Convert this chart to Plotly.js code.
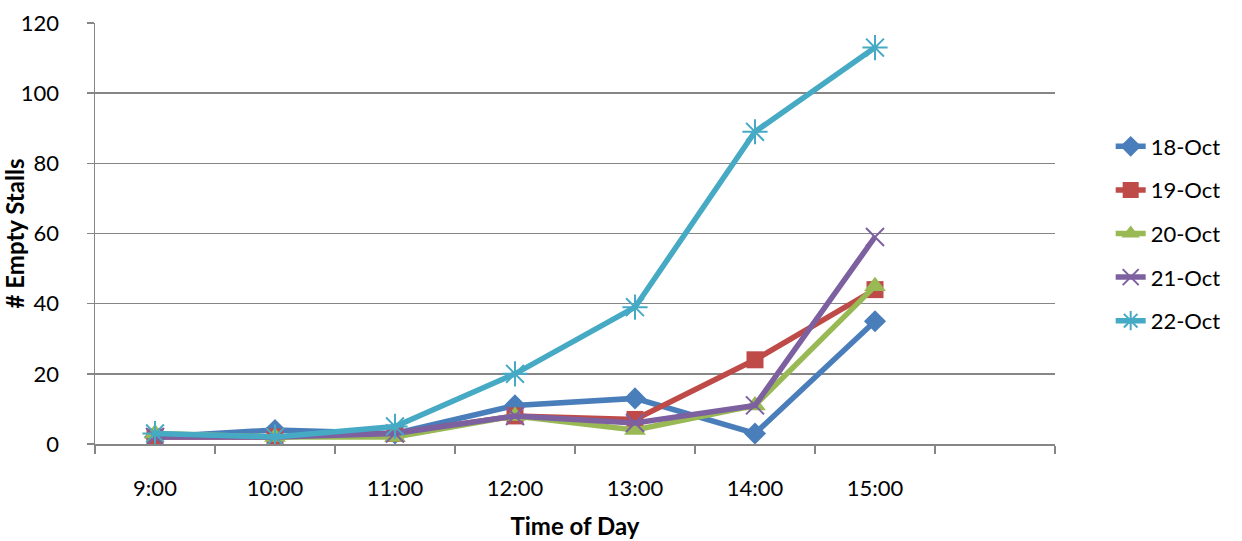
<!DOCTYPE html>
<html>
<head>
<meta charset="utf-8">
<script src="https://cdn.plot.ly/plotly-3.0.1.min.js"></script>
<style>html,body{margin:0;padding:0;background:#fff;}#chart{width:1242px;height:541px;}</style>
</head>
<body>
<div id="chart"></div>
<script>
const timeLabels = ["9:00","10:00","11:00","12:00","13:00","14:00","15:00"];
const seriesNames = ["18-Oct","19-Oct","20-Oct","21-Oct","22-Oct"];
const oct18 = [2, 4, 3, 11, 13, 3, 35];
const oct19 = [2, 2, 3, 8, 7, 24, 44];
const oct20 = [3, 2, 2, 8, 4, 11, 45];
const oct21 = [2, 2, 3, 8, 6, 11, 59];
const oct22 = [3, 2, 5, 20, 39, 89, 113];
const yTicks = [0, 20, 40, 60, 80, 100, 120];

const values = [oct18, oct19, oct20, oct21, oct22];
const colors = ["#4a7ebb", "#be4b48", "#98b954", "#7d60a0", "#46aac5"];
const symbols = ["diamond", "square", "triangle-up", "x-thin-open", "asterisk-open"];
const sizes = [17, 17, 19, 18, 21];
const xIdx = timeLabels.map((_, i) => i);

const traces = values.map((v, i) => {
  const open = symbols[i].endsWith("open");
  return {
    x: xIdx, y: v, name: seriesNames[i], type: "scatter", mode: "lines+markers",
    legendgroup: "g" + i,
    line: {color: colors[i], width: 5.5},
    marker: {
      symbol: symbols[i], size: sizes[i], color: colors[i],
      line: {color: colors[i], width: open ? 2 : 0}
    }
  };
});

const boundaries = [];
for (let i = 0; i <= timeLabels.length + 1; i++) boundaries.push(i - 0.5);

const layout = {
  width: 1242, height: 541,
  margin: {l: 95, r: 187, t: 23, b: 97},
  paper_bgcolor: "#fff", plot_bgcolor: "#fff",
  font: {family: "Lato, 'Open Sans', sans-serif", size: 22, color: "#000"},
  showlegend: true,
  legend: {
    x: 1.058, xanchor: "left", y: 0.5, yanchor: "middle",
    traceorder: "grouped", tracegroupgap: 12,
    font: {size: 22}
  },
  xaxis: {
    type: "linear", range: [-0.5, 7.5],
    tickmode: "array", tickvals: xIdx, ticktext: timeLabels,
    ticks: "", showgrid: false, zeroline: false,
    showline: true, linecolor: "#868686", linewidth: 1.5,
    ticklabelstandoff: 24,
    minor: {tickmode: "array", tickvals: boundaries, ticks: "outside", ticklen: 8, tickcolor: "#868686", tickwidth: 1.5, showgrid: false},
    title: {text: "<b>Time of Day</b>", font: {size: 24}, standoff: 18}
  },
  yaxis: {
    range: [0, 120], tickmode: "array", tickvals: yTicks,
    ticks: "outside", ticklen: 7, tickcolor: "#868686", tickwidth: 1.5,
    showgrid: true, gridcolor: "#868686", gridwidth: 1.5,
    zeroline: false, showline: true, linecolor: "#868686", linewidth: 1.5,
    ticklabelstandoff: 23,
    title: {text: "<b># Empty Stalls</b>", font: {size: 24}, standoff: 2}
  }
};

Plotly.newPlot("chart", traces, layout, {displayModeBar: false, staticPlot: true});
</script>
</body>
</html>
